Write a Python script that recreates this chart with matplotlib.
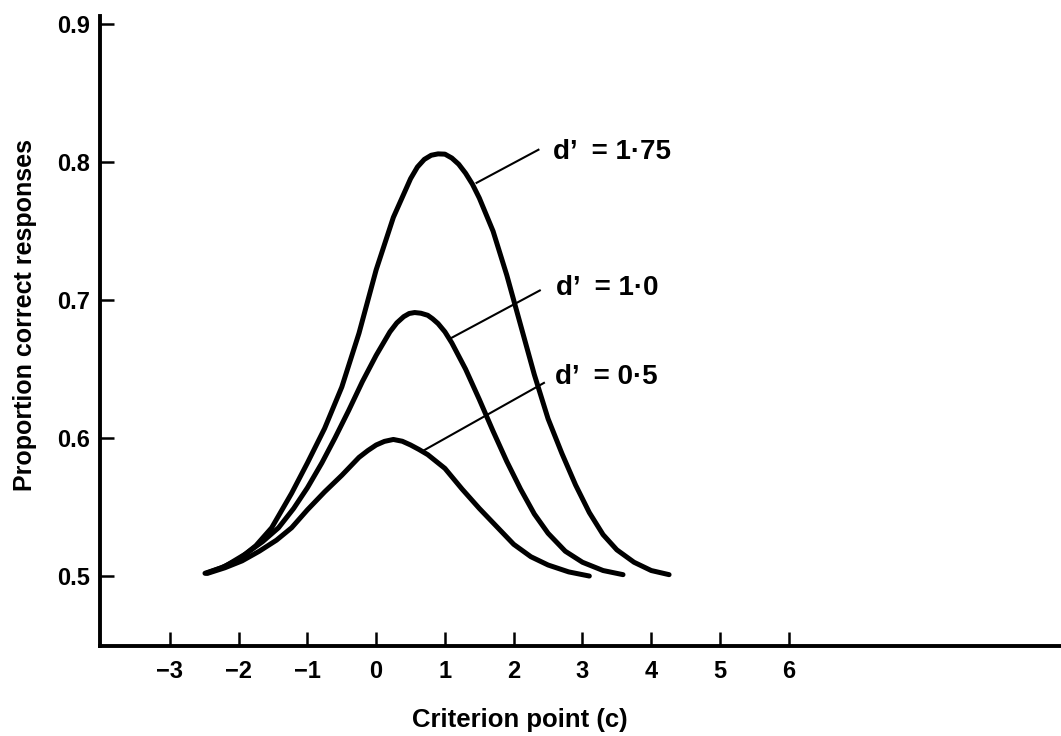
import matplotlib
matplotlib.use("Agg")
import matplotlib.pyplot as plt

# values
d175_x = [-2.49, -2.25, -2.0, -1.75, -1.52, -1.23, -1.0, -0.75, -0.5, -0.25, 0.0, 0.25, 0.5, 0.6, 0.7,
          0.8, 0.9, 1.0, 1.1, 1.2, 1.3, 1.4, 1.5, 1.7, 1.9, 2.1, 2.3, 2.5, 2.7, 2.9, 3.1, 3.3, 3.5,
          3.75, 4.0, 4.26]
d175_y = [0.502, 0.506, 0.512, 0.522, 0.535, 0.560, 0.582, 0.607, 0.637, 0.676, 0.722, 0.760, 0.788, 0.7965,
          0.802, 0.805, 0.806, 0.8058, 0.803, 0.7985, 0.792, 0.784, 0.774, 0.750, 0.718, 0.682, 0.646, 0.614,
          0.589, 0.566, 0.546, 0.530, 0.519, 0.510, 0.504, 0.501]

d10_x = [-2.47, -2.2, -1.9, -1.65, -1.42, -1.2, -1.0, -0.79, -0.6, -0.4, -0.2, 0.0, 0.2, 0.3, 0.4, 0.48,
         0.56, 0.65, 0.75, 0.82, 0.9, 1.0, 1.1, 1.3, 1.5, 1.7, 1.9, 2.1, 2.3, 2.5, 2.75, 3.0, 3.3, 3.59]
d10_y = [0.502, 0.507, 0.516, 0.525, 0.535, 0.549, 0.564, 0.582, 0.600, 0.620, 0.641, 0.660, 0.677, 0.6835,
         0.688, 0.6903, 0.691, 0.6905, 0.689, 0.6865, 0.683, 0.677, 0.669, 0.650, 0.628, 0.605, 0.583, 0.563,
         0.545, 0.531, 0.518, 0.510, 0.504, 0.501]

d05_x = [-2.45, -2.2, -1.95, -1.7, -1.45, -1.23, -1.0, -0.75, -0.5, -0.25, -0.12, 0.0, 0.12, 0.25, 0.38,
         0.5, 0.62, 0.75, 1.0, 1.25, 1.5, 1.75, 2.0, 2.25, 2.5, 2.8, 3.10]
d05_y = [0.502, 0.506, 0.511, 0.518, 0.526, 0.535, 0.548, 0.561, 0.573, 0.586, 0.591, 0.595, 0.5976, 0.599,
         0.5977, 0.595, 0.5918, 0.588, 0.578, 0.563, 0.549, 0.536, 0.523, 0.514, 0.508, 0.503, 0.500]

labels = ["d\u2019  = 1\u00b775", "d\u2019  = 1\u00b70", "d\u2019  = 0\u00b75"]
leader_start = [(1.46, 0.785), (1.09, 0.6725), (0.69, 0.591)]
leader_end = [(2.36, 0.809), (2.38, 0.707), (2.44, 0.640)]
label_pos = [(2.57, 0.807), (2.62, 0.709), (2.60, 0.644)]

x_ticks = [-3, -2, -1, 0, 1, 2, 3, 4, 5, 6]
y_ticks = [0.5, 0.6, 0.7, 0.8, 0.9]

plt.rcParams['font.family'] = ['Liberation Sans', 'DejaVu Sans']

fig = plt.figure(figsize=(10.61, 7.36), dpi=100)
ax = fig.add_axes([0.0943, 0.1223, 0.9057, 0.8557])

for xs, ys in [(d175_x, d175_y), (d10_x, d10_y), (d05_x, d05_y)]:
    ax.plot(xs, ys, color='black', lw=3.6, solid_joinstyle='round', solid_capstyle='round')

for (x0, y0), (x1, y1), (tx, ty), lab in zip(leader_start, leader_end, label_pos, labels):
    ax.plot([x0, x1], [y0, y1], color='black', lw=1.5)
    ax.text(tx, ty, lab, fontsize=20, fontweight='bold', va='center', ha='left')

ax.set_xlim(-4.016, 9.96)
ax.set_ylim(0.4493, 0.9058)

for side in ['top', 'right']:
    ax.spines[side].set_visible(False)
for side in ['left', 'bottom']:
    ax.spines[side].set_linewidth(2.8)

ax.set_xticks(x_ticks)
ax.set_xticklabels([str(v).replace('-', '\u2212') for v in x_ticks])
ax.set_yticks(y_ticks)
ax.set_yticklabels(['0.5', '0.6', '0.7', '0.8', '0.9'])
ax.tick_params(direction='in', length=10, width=1.8, labelsize=17)
ax.tick_params(axis='x', pad=10)
ax.tick_params(axis='y', pad=7)
for lab in ax.get_xticklabels() + ax.get_yticklabels():
    lab.set_fontweight('bold')

ax.set_xlabel('Criterion point (c)', fontsize=18.5, fontweight='bold')
ax.set_ylabel('Proportion correct responses', fontsize=18, fontweight='bold')
ax.xaxis.set_label_coords(0.437, -0.098)
ax.yaxis.set_label_coords(-0.066, 0.525)

fig.savefig('out.png', dpi=100)
